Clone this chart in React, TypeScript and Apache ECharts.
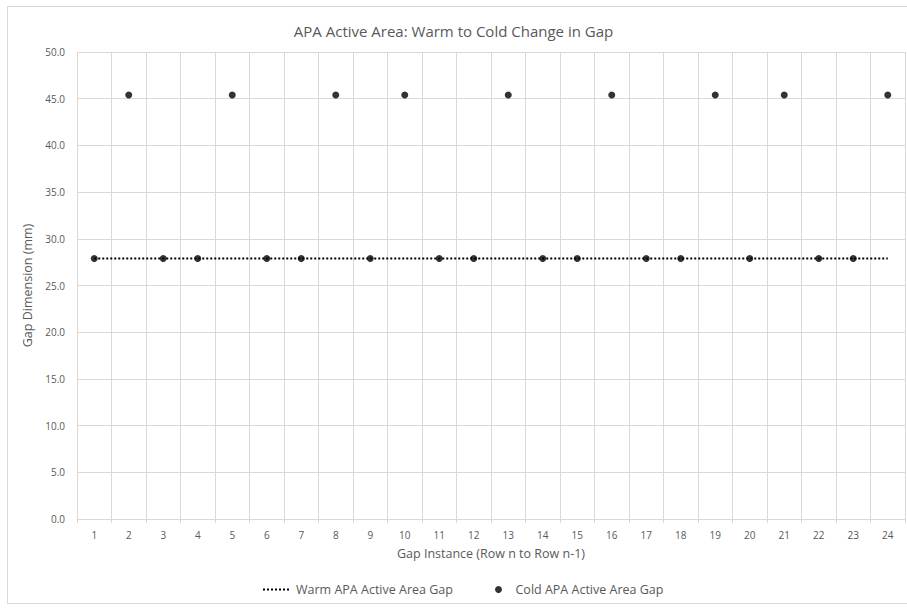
import React, { useEffect, useRef } from "react";
import * as echarts from "echarts";

const categories = ["1","2","3","4","5","6","7","8","9","10","11","12","13","14","15","16","17","18","19","20","21","22","23","24"];
const warmGap = [27.9,27.9,27.9,27.9,27.9,27.9,27.9,27.9,27.9,27.9,27.9,27.9,27.9,27.9,27.9,27.9,27.9,27.9,27.9,27.9,27.9,27.9,27.9,27.9];
const coldGap = [27.9,45.4,27.9,27.9,45.4,27.9,27.9,45.4,27.9,45.4,27.9,27.9,45.4,27.9,27.9,45.4,27.9,27.9,45.4,27.9,45.4,27.9,27.9,45.4];

const FONT = "'Open Sans', 'Liberation Sans', sans-serif";
const GRAY = "#595959";
const DOTS = "path://M0,0h2v2H0zM4,0h2v2H4zM8,0h2v2H8zM12,0h2v2H12zM16,0h2v2H16zM20,0h2v2H20zM24,0h2v2H24z";

export default function App() {
  const ref = useRef<HTMLDivElement>(null);
  useEffect(() => {
    if (!ref.current) return;
    const chart = echarts.init(ref.current, null, { renderer: "svg" });
    chart.setOption({
      animation: false,
      backgroundColor: "#ffffff",
      textStyle: { fontFamily: FONT },
      graphic: [
        {
          type: "rect",
          shape: { x: 7.5, y: 6.5, width: 910, height: 597 },
          style: { fill: "none", stroke: "#d9d9d9", lineWidth: 1 },
          silent: true,
        },
      ],
      title: {
        text: "APA Active Area: Warm to Cold Change in Gap",
        left: "center",
        top: 18,
        textStyle: { fontFamily: FONT, fontSize: 15, fontWeight: "normal", color: GRAY },
      },
      legend: [
        {
          bottom: 9,
          left: 258,
          itemWidth: 30,
          itemHeight: 2,
          itemGap: 8,
          textStyle: { fontFamily: FONT, fontSize: 12.5, color: GRAY },
          data: [{ name: "Warm APA Active Area Gap", icon: DOTS, itemStyle: { color: "#000000" } }],
        },
        {
          bottom: 9,
          left: 490,
          itemWidth: 24,
          itemHeight: 7,
          itemGap: 8,
          textStyle: { fontFamily: FONT, fontSize: 12.5, color: GRAY },
          data: [{ name: "Cold APA Active Area Gap", icon: "circle" }],
        },
      ],
      grid: { left: 77, right: 2, top: 52, bottom: 91 },
      xAxis: {
        type: "category",
        data: categories,
        boundaryGap: true,
        name: "Gap Instance (Row n to Row n-1)",
        nameLocation: "middle",
        nameGap: 28,
        nameTextStyle: { fontFamily: FONT, fontSize: 12.5, color: GRAY },
        axisLine: { lineStyle: { color: "#d9d9d9" } },
        axisTick: { show: true, length: 4, lineStyle: { color: "#d9d9d9" } },
        axisLabel: { fontFamily: FONT, fontSize: 10, color: GRAY, margin: 11 },
        splitLine: { show: true, lineStyle: { color: "#d9d9d9" } },
      },
      yAxis: {
        type: "value",
        min: 0,
        max: 50,
        interval: 5,
        name: "Gap Dimension (mm)",
        nameLocation: "middle",
        nameGap: 37,
        nameTextStyle: { fontFamily: FONT, fontSize: 12.5, color: GRAY },
        axisLine: { show: false },
        axisTick: { show: false },
        axisLabel: {
          fontFamily: FONT,
          fontSize: 10,
          color: GRAY,
          margin: 12,
          formatter: (v: number) => v.toFixed(1),
        },
        splitLine: { show: true, lineStyle: { color: "#d9d9d9" } },
      },
      series: [
        {
          name: "Warm APA Active Area Gap",
          type: "line",
          data: warmGap,
          symbol: "none",
          lineStyle: { color: "#000000", width: 2, type: [2, 2] },
          itemStyle: { color: "#000000" },
          z: 2,
        },
        {
          name: "Cold APA Active Area Gap",
          type: "scatter",
          data: coldGap,
          symbol: "circle",
          symbolSize: 7,
          itemStyle: { color: "#000000" },
          z: 3,
        },
      ],
    });
    return () => chart.dispose();
  }, []);
  return <div ref={ref} style={{ width: 907, height: 610, position: "absolute", left: 0, top: 0 }} />;
}
